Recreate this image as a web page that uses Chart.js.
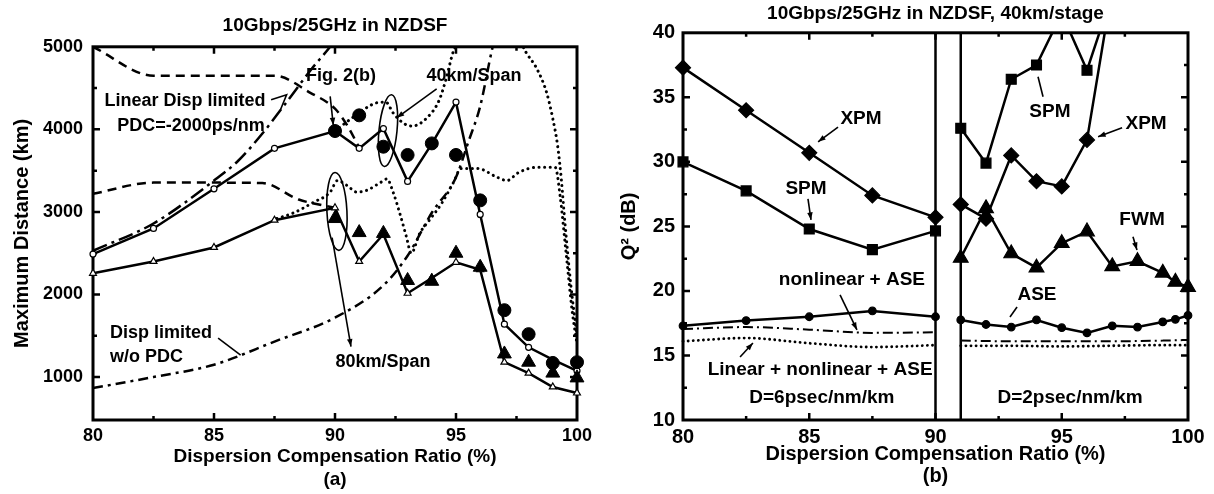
<!DOCTYPE html>
<html>
<head>
<meta charset="utf-8">
<script src="https://cdn.jsdelivr.net/npm/chart.js@4.4.1/dist/chart.umd.min.js"></script>
<style>
  html, body { margin: 0; padding: 0; background: #fff; }
  body { width: 1214px; height: 494px; position: relative; overflow: hidden; }
  canvas { position: absolute; top: 0; }
  #chartA { left: 0; }
  #chartB { left: 600px; }
</style>
</head>
<body>
<canvas id="chartA" width="600" height="494"></canvas>
<canvas id="chartB" width="614" height="494"></canvas>
<script>
// ---------- shared tick labels ----------
const ratioTicks = [80, 85, 90, 95, 100];

// ---------- (a) Maximum distance vs. compensation ratio ----------
const distTicks = [1000, 2000, 3000, 4000, 5000];
const ratioA   = [80, 82.5, 85, 87.5, 90, 91, 92, 93, 94, 95, 96, 97, 98, 99, 100];
const sim40    = [2490, 2800, 3280, 3770, 3980, 3770, 4010, 3370, 3825, 4330, 2970, 1640, 1360, 1210, 1075];
const sim80    = [2257, 2400, 2570, 2900, 3050, 2400, 2730, 2015, 2200, 2390, 2300, 1180, 1048, 880, 807];
const ratioExp = [90, 91, 92, 93, 94, 95, 96, 97, 98, 99, 100];
const exp40    = [3980, 4170, 3790, 3690, 3830, 3690, 3140, 1810, 1520, 1170, 1180];
const exp80    = [2920, 2750, 2740, 2170, 2160, 2500, 2330, 1280, 1180, 1048, 990];

const dashHiX = [80, 82.5, 85, 87.5, 89, 90, 90.5, 91];
const dashHiY = [5000, 4650, 4650, 4650, 4440, 4250, 4050, 3780];
const dashLoX = [80, 82.5, 85, 87, 88.5, 89.5, 90];
const dashLoY = [3220, 3355, 3355, 3350, 3150, 3080, 3050];

const dot40X = [90, 91, 91.7, 92.1, 92.4, 92.8, 93.2, 93.8, 94.3, 94.6, 94.9, 95.5, 96.5, 97.5, 97.9, 98.35, 98.75, 99, 99.2, 99.35, 99.5, 99.75, 100];
const dot40Y = [3980, 4200, 4320, 4330, 4200, 4080, 4040, 4140, 4350, 4620, 4950, 5150, 5300, 5150, 4930, 4730, 4440, 4130, 3800, 3400, 2870, 2100, 1500];
const dot80X = [87.6, 88.3, 89.1, 89.8, 90.1, 90.5, 90.9, 91.3, 91.9, 92.15, 92.4, 92.7, 92.95, 93.15, 93.5, 93.9, 94.4, 94.9, 95.2, 95.9, 96.7, 97.1, 97.6, 98.35, 99.1, 99.3, 99.55, 99.8, 100];
const dot80Y = [2920, 2990, 3115, 3240, 3380, 3320, 3240, 3260, 3360, 3400, 3240, 2960, 2700, 2500, 2740, 2900, 3100, 3360, 3525, 3525, 3420, 3380, 3480, 3540, 3540, 3200, 2500, 1800, 1400];

const pdcX   = [80, 82.5, 85, 86, 87, 88, 89, 89.8, 90.1];
const pdcY   = [2530, 2860, 3380, 3620, 3950, 4330, 4720, 5000, 5120];
const noPdcX = [80, 82.5, 85, 87.5, 90, 92, 93, 94, 95, 95.5, 96, 96.5, 96.8];
const noPdcY = [867, 1000, 1150, 1430, 1720, 2110, 2470, 2990, 3420, 3840, 4280, 4980, 5300];

const ticksA = { xMajor: 5, xMinor: 2.5, yMajor: 1000, yMinor: 500 };

// ---------- (b) Q^2 vs. compensation ratio, 40km/stage ----------
const qTicks  = [10, 15, 20, 25, 30, 35, 40];
const ratioL  = [80, 82.5, 85, 87.5, 90];
const xpmL    = [37.3, 34.0, 30.7, 27.4, 25.7];
const spmL    = [30.0, 27.75, 24.8, 23.2, 24.65];
const aseL    = [17.3, 17.7, 18.0, 18.45, 18.0];
const nlAseL  = [17.05, 17.2, 17.0, 16.75, 16.8];
const allL    = [16.1, 16.35, 15.95, 15.65, 15.8];

const ratioR  = [91, 92, 93, 94, 95, 96, 97];
const spmR    = [32.6, 29.9, 36.4, 37.5, 41.5, 37.1, 43];
const xpmR    = [26.7, 25.6, 30.5, 28.5, 28.1, 31.7, 43.5];
const ratioR2 = [91, 92, 93, 94, 95, 96, 97, 98, 99, 99.5, 100];
const fwmR    = [22.55, 26.4, 22.9, 21.8, 23.7, 24.6, 21.9, 22.3, 21.4, 20.7, 20.3];
const aseR    = [17.75, 17.4, 17.2, 17.75, 17.15, 16.75, 17.3, 17.2, 17.6, 17.8, 18.1];
const ratioR3 = [91, 93, 95, 97, 99, 100];
const nlAseR  = [16.15, 16.1, 16.1, 16.1, 16.15, 16.2];
const allR    = [15.75, 15.75, 15.7, 15.75, 15.8, 15.8];

const dividers = [90, 91];
const ticksB = { xMajor: 5, xMinor: 2.5, yMajor: 5, yMinor: 2.5 };

// ---------- helpers ----------
const black = '#000';
Chart.defaults.font.family = "'Liberation Sans', Arial, sans-serif";
Chart.defaults.font.weight = 'bold';
Chart.defaults.color = black;

const pts = (xs, ys) => xs.map((x, i) => ({ x, y: ys[i] }));
const edgeClip = { left: 10, right: 10, top: 0, bottom: 10 };

function markers(xs, ys, style, r) {
  return { data: pts(xs, ys), showLine: false, pointStyle: style, pointRadius: r,
    pointBackgroundColor: black, pointBorderColor: black, pointBorderWidth: 1, clip: edgeClip };
}
function solid(xs, ys, style, r, fill, width) {
  return { data: pts(xs, ys), borderColor: black, borderWidth: width || 2.5,
    pointStyle: style, pointRadius: r, pointBackgroundColor: fill, pointBorderColor: black,
    pointBorderWidth: 1.2, clip: edgeClip };
}
function curve(xs, ys, dash, width, cap) {
  return { data: pts(xs, ys), borderColor: black, borderWidth: width, borderDash: dash,
    borderCapStyle: cap || 'butt', pointRadius: 0, cubicInterpolationMode: 'monotone', clip: edgeClip };
}

// frame + inward tick marks on all four sides
const frameTicks = {
  id: 'frameTicks',
  beforeDatasetsDraw(chart, args, opts) {
    const { ctx, chartArea: a, scales: { x, y } } = chart;
    ctx.save();
    ctx.strokeStyle = black;
    ctx.lineWidth = 3;
    ctx.strokeRect(a.left, a.top, a.right - a.left, a.bottom - a.top);
    ctx.lineWidth = 2.5;
    ctx.beginPath();
    const near = (v, s) => Math.abs(v / s - Math.round(v / s)) < 1e-6;
    for (let v = Math.ceil(x.min / opts.xMinor) * opts.xMinor; v <= x.max + 1e-9; v += opts.xMinor) {
      const px = x.getPixelForValue(v);
      if (px < a.left + 2 || px > a.right - 2) continue;
      const len = near(v, opts.xMajor) ? 7 : 4;
      ctx.moveTo(px, a.bottom); ctx.lineTo(px, a.bottom - len);
      ctx.moveTo(px, a.top); ctx.lineTo(px, a.top + len);
    }
    for (let v = Math.ceil(y.min / opts.yMinor) * opts.yMinor; v <= y.max + 1e-9; v += opts.yMinor) {
      const py = y.getPixelForValue(v);
      if (py < a.top + 2 || py > a.bottom - 2) continue;
      const len = near(v, opts.yMajor) ? 7 : 4;
      ctx.moveTo(a.left, py); ctx.lineTo(a.left + len, py);
      ctx.moveTo(a.right, py); ctx.lineTo(a.right - len, py);
    }
    ctx.stroke();
    ctx.restore();
  }
};

// labels, leader lines, arrows and ovals, placed in data units
const notes = {
  id: 'notes',
  afterDatasetsDraw(chart, args, opts) {
    const { ctx, scales: { x, y } } = chart;
    const px = (p) => [x.getPixelForValue(p[0]), y.getPixelForValue(p[1])];
    ctx.save();
    ctx.fillStyle = black;
    ctx.strokeStyle = black;
    ctx.font = opts.font;
    ctx.textBaseline = 'middle';
    opts.texts.forEach(t => {
      const [X, Y] = px(t.at);
      ctx.textAlign = t.align || 'center';
      ctx.fillText(t.text, X, Y);
    });
    ctx.lineWidth = 1.6;
    opts.lines.forEach(l => {
      const p = l.pts.map(px);
      ctx.beginPath();
      p.forEach(([X, Y], i) => i ? ctx.lineTo(X, Y) : ctx.moveTo(X, Y));
      ctx.stroke();
      if (l.arrow) {
        const [x1, y1] = p[p.length - 2], [x2, y2] = p[p.length - 1];
        const ang = Math.atan2(y2 - y1, x2 - x1);
        ctx.beginPath();
        ctx.moveTo(x2, y2);
        ctx.lineTo(x2 - 8 * Math.cos(ang - 0.35), y2 - 8 * Math.sin(ang - 0.35));
        ctx.lineTo(x2 - 8 * Math.cos(ang + 0.35), y2 - 8 * Math.sin(ang + 0.35));
        ctx.closePath();
        ctx.fill();
      }
    });
    opts.ovals.forEach(o => {
      const [X, Y] = px(o.at);
      ctx.beginPath();
      ctx.ellipse(X, Y, o.rx, o.ry, o.rot, 0, Math.PI * 2);
      ctx.stroke();
    });
    ctx.restore();
  }
};

const fixedTicks = (values) => (s) => { s.ticks = values.map(v => ({ value: v })); };

function options(cfg) {
  return {
    responsive: false,
    animation: false,
    events: [],
    layout: { padding: { left: 0, right: cfg.padRight, top: 0, bottom: 0 } },
    plugins: {
      legend: { display: false },
      tooltip: { enabled: false },
      title: { display: true, text: cfg.title, fullSize: false, color: black,
        font: { size: 19, weight: 'bold' }, padding: cfg.titlePad },
      frameTicks: cfg.ticks,
      notes: cfg.notes
    },
    scales: {
      x: {
        type: 'linear', min: 80, max: 100,
        border: { display: false },
        grid: { display: false, drawTicks: false },
        ticks: { padding: 5, maxRotation: 0, autoSkip: false, color: black,
          font: { size: cfg.tickSize, weight: 'bold' }, callback: v => v },
        afterBuildTicks: fixedTicks(ratioTicks),
        title: { display: true, text: cfg.xTitle, color: black,
          font: { size: cfg.xTitleSize, weight: 'bold', lineHeight: cfg.xTitleLh },
          padding: { top: 0, bottom: cfg.xTitlePadB } },
        afterFit: s => { s.height = 74; }
      },
      y: {
        type: 'linear', min: cfg.yMin, max: cfg.yMax,
        border: { display: false },
        grid: { display: false, drawTicks: false },
        ticks: { padding: cfg.yTickPad, autoSkip: false, color: black,
          font: { size: cfg.tickSize, weight: 'bold' }, callback: v => v },
        afterBuildTicks: fixedTicks(cfg.yTicks),
        title: { display: true, text: cfg.yTitle, color: black,
          font: { size: 20, weight: 'bold' }, padding: { top: cfg.yTitlePad, bottom: 0 } },
        afterFit: s => { s.width = cfg.yWidth; }
      }
    }
  };
}

// ---------- chart (a) ----------
new Chart(document.getElementById('chartA'), {
  type: 'line',
  data: {
    datasets: [
      markers(ratioExp, exp40, 'circle', 6.5),
      markers(ratioExp, exp80, 'triangle', 8),
      solid(ratioA, sim40, 'circle', 3, '#fff'),
      solid(ratioA, sim80, 'triangle', 4, '#fff'),
      curve(dashHiX, dashHiY, [9, 6], 2.5),
      curve(dashLoX, dashLoY, [9, 6], 2.5),
      curve(dot40X, dot40Y, [0.1, 5.5], 3, 'round'),
      curve(dot80X, dot80Y, [0.1, 5.5], 3, 'round'),
      curve(pdcX, pdcY, [15, 5, 3, 5], 2.5),
      curve(noPdcX, noPdcY, [10, 5, 3, 5], 2.5)
    ]
  },
  options: options({
    padRight: 23,
    title: '10Gbps/25GHz in NZDSF',
    titlePad: { top: 14, bottom: 10 },
    ticks: ticksA,
    tickSize: 18,
    xTitle: ['Dispersion Compensation Ratio (%)', '(a)'],
    xTitleSize: 19, xTitleLh: 1.2, xTitlePadB: 2.6,
    yMin: 480, yMax: 5000, yTicks: distTicks, yTickPad: 10,
    yTitle: 'Maximum Distance (km)', yTitlePad: 10, yWidth: 93,
    notes: {
      font: "bold 18px 'Liberation Sans', Arial, sans-serif",
      texts: [
        { text: 'Fig. 2(b)', at: [90.25, 4640] },
        { text: '40km/Span', at: [95.74, 4640] },
        { text: 'Linear Disp limited', at: [83.8, 4347] },
        { text: 'PDC=-2000ps/nm', at: [84.05, 4045] },
        { text: 'Disp limited', at: [80.7, 1532], align: 'left' },
        { text: 'w/o PDC', at: [80.7, 1242], align: 'left' },
        { text: '80km/Span', at: [91.98, 1181] }
      ],
      lines: [
        { pts: [[89.8, 4400], [89.93, 4050]], arrow: true },
        { pts: [[94.2, 4490], [92.55, 4140]], arrow: true },
        { pts: [[89.88, 2690], [90.66, 1370]], arrow: true },
        { pts: [[87.36, 4359], [88.0, 4420], [87.75, 4240]] },
        { pts: [[85.17, 1471], [86.1, 1266]] }
      ],
      ovals: [
        { at: [92.19, 3985], rx: 9, ry: 36, rot: 0.1 },
        { at: [90.08, 3006], rx: 10, ry: 39, rot: -0.05 }
      ]
    }
  }),
  plugins: [frameTicks, notes]
});

// ---------- chart (b) ----------
new Chart(document.getElementById('chartB'), {
  type: 'line',
  data: {
    datasets: [
      solid(ratioL, xpmL, 'rectRot', 7.5, black),
      solid(ratioR, xpmR, 'rectRot', 7.5, black),
      solid(ratioL, spmL, 'rect', 7, black),
      solid(ratioR, spmR, 'rect', 7, black),
      solid(ratioR2, fwmR, 'triangle', 8.5, black),
      solid(ratioL, aseL, 'circle', 3.8, black),
      solid(ratioR2, aseR, 'circle', 3.8, black),
      curve(ratioL, nlAseL, [10, 4, 2, 4], 2),
      curve(ratioR3, nlAseR, [10, 4, 2, 4], 2),
      curve(ratioL, allL, [0.1, 5], 2.8, 'round'),
      curve(ratioR3, allR, [0.1, 5], 2.8, 'round'),
      ...dividers.map(d => curve([d, d], [10, 40], [], 2.5))
    ]
  },
  options: options({
    padRight: 26,
    title: '10Gbps/25GHz in NZDSF, 40km/stage',
    titlePad: { top: 2, bottom: 8 },
    ticks: ticksB,
    tickSize: 20,
    xTitle: ['Dispersion Compensation Ratio (%)', '(b)'],
    xTitleSize: 20, xTitleLh: 1.1, xTitlePadB: 7,
    yMin: 10, yMax: 40, yTicks: qTicks, yTickPad: 8,
    yTitle: 'Q\u00B2 (dB)', yTitlePad: 17, yWidth: 83,
    notes: {
      font: "bold 19px 'Liberation Sans', Arial, sans-serif",
      texts: [
        { text: 'XPM', at: [87.05, 33.33] },
        { text: 'SPM', at: [84.87, 27.91] },
        { text: 'nonlinear + ASE', at: [86.69, 20.85] },
        { text: 'Linear + nonlinear + ASE', at: [85.43, 13.88] },
        { text: 'D=6psec/nm/km', at: [85.5, 11.7] },
        { text: 'SPM', at: [94.53, 33.88] },
        { text: 'XPM', at: [98.34, 32.95] },
        { text: 'FWM', at: [98.18, 25.5] },
        { text: 'ASE', at: [94.02, 19.69] },
        { text: 'D=2psec/nm/km', at: [95.33, 11.7] }
      ],
      lines: [
        { pts: [[86.14, 32.7], [85.35, 31.55]], arrow: true },
        { pts: [[84.95, 27.13], [85.07, 25.5]], arrow: true },
        { pts: [[86.22, 19.69], [86.89, 16.98]], arrow: true },
        { pts: [[82.26, 14.88], [82.77, 15.97]], arrow: true },
        { pts: [[94.26, 35.04], [94.06, 36.59]] },
        { pts: [[97.39, 32.64], [96.44, 31.94]], arrow: true },
        { pts: [[97.82, 24.19], [97.98, 23.18]], arrow: true },
        { pts: [[93.23, 18.76], [92.95, 17.98]] }
      ],
      ovals: []
    }
  }),
  plugins: [frameTicks, notes]
});
</script>
</body>
</html>
